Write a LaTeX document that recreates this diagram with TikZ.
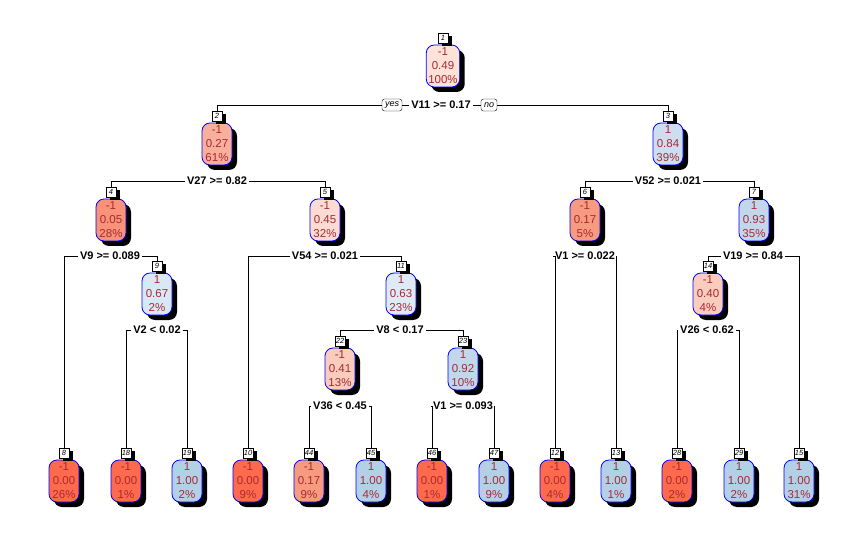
\documentclass[tikz,border=0pt]{standalone}
\usepackage{fontspec}
\setmainfont{Liberation Sans}
\usetikzlibrary{positioning,shadows}

\definecolor{txtred}{RGB}{168,42,52}
\definecolor{c000}{RGB}{255,106,77}
\definecolor{c005}{RGB}{248,146,120}
\definecolor{c017}{RGB}{246,154,128}
\definecolor{c027}{RGB}{248,176,156}
\definecolor{c040}{RGB}{250,204,190}
\definecolor{c045}{RGB}{252,220,210}
\definecolor{c049}{RGB}{253,226,216}
\definecolor{c063}{RGB}{222,234,246}
\definecolor{c067}{RGB}{218,231,245}
\definecolor{c084}{RGB}{205,222,240}
\definecolor{c093}{RGB}{194,215,236}
\definecolor{c100}{RGB}{180,208,230}

\tikzset{
  probbox/.style={draw=blue, line width=0.8pt, rounded corners=8pt,
    minimum width=30pt, minimum height=42pt, inner sep=2pt, align=center,
    text=txtred, font=\fontsize{11.5}{14}\selectfont,
    drop shadow={shadow xshift=5pt, shadow yshift=-5pt, fill=black, opacity=1}},
  numbox/.style={draw, fill=white, line width=0.6pt, minimum width=10pt,
    minimum height=10pt, inner sep=1pt, font=\itshape\fontsize{7.5}{7.5}\selectfont,
    drop shadow={shadow xshift=4pt, shadow yshift=-3pt, fill=black, opacity=1}},
  splitlbl/.style={fill=white, inner sep=2pt, font=\bfseries\fontsize{11}{13}\selectfont},
  yesno/.style={draw, fill=white, rounded corners=2.5pt, inner xsep=3pt, inner ysep=1.5pt,
    minimum height=12pt, font=\itshape\fontsize{9}{9}\selectfont},
  conn/.style={line width=0.8pt}
}

\begin{document}
\begin{tikzpicture}[x=1pt, y=-1pt]
  \useasboundingbox (0,0) rectangle (865,540);

  % boxes with their numbers
  \foreach \id/\x/\y/\fc/\cl/\pr/\pc in {
      1/443/66/c049/-1/0.49/100\%,
      2/217/144/c027/-1/0.27/61\%, 3/668/144/c084/1/0.84/39\%,
      4/111/220/c005/-1/0.05/28\%, 5/325/220/c045/-1/0.45/32\%,
      6/585/220/c017/-1/0.17/5\%, 7/754/220/c093/1/0.93/35\%,
      9/157/294/c067/1/0.67/2\%, 11/401/294/c063/1/0.63/23\%,
      14/708/294/c040/-1/0.40/4\%,
      22/340/369/c040/-1/0.41/13\%, 23/463/369/c093/1/0.92/10\%,
      8/64/481/c000/-1/0.00/26\%, 18/126/481/c000/-1/0.00/1\%,
      19/187/481/c100/1/1.00/2\%, 10/248/481/c000/-1/0.00/9\%,
      44/309/481/c017/-1/0.17/9\%, 45/371/481/c100/1/1.00/4\%,
      46/432/481/c000/-1/0.00/1\%, 47/494/481/c100/1/1.00/9\%,
      12/555/481/c000/-1/0.00/4\%, 13/616/481/c100/1/1.00/1\%,
      28/677/481/c000/-1/0.00/2\%, 29/739/481/c100/1/1.00/2\%,
      15/799/481/c100/1/1.00/31\%}
  {
    \node[probbox, fill=\fc] (n\id) at (\x,\y) {\cl\\\pr\\\pc};
    \node[numbox, above=1pt of n\id] (b\id) {\id};
  }

  % split labels
  \node[splitlbl] (s1) at (441,105) {V11 >= 0.17};
  \node[yesno] (yes) at (392,105) {yes};
  \node[yesno] (no) at (489,105) {no};
  \foreach \id/\x/\y/\lbl in {
      2/217/181/V27 >= 0.82, 3/668/181/V52 >= 0.021,
      4/110/256/V9 >= 0.089, 5/325/256/V54 >= 0.021,
      6/585/256/V1 >= 0.022, 7/753/256/V19 >= 0.84,
      9/157/330/V2 < 0.02, 11/400/330/V8 < 0.17,
      14/707/330/V26 < 0.62,
      22/340/406/V36 < 0.45, 23/463/406/V1 >= 0.093}
  {
    \node[splitlbl] (s\id) at (\x,\y) {\lbl};
  }

  % connectors
  \draw[conn] (yes.west) -| (b2.north);
  \draw[conn] (yes.east) -- (s1.west);
  \draw[conn] (s1.east) -- (no.west);
  \draw[conn] (no.east) -| (b3.north);
  \foreach \s/\l/\r in {2/4/5, 3/6/7, 4/8/9, 5/10/11, 6/12/13, 7/14/15,
      9/18/19, 11/22/23, 14/28/29, 22/44/45, 23/46/47}
  {
    \draw[conn] (s\s.west) -| (b\l.north);
    \draw[conn] (s\s.east) -| (b\r.north);
  }
\end{tikzpicture}
\end{document}
